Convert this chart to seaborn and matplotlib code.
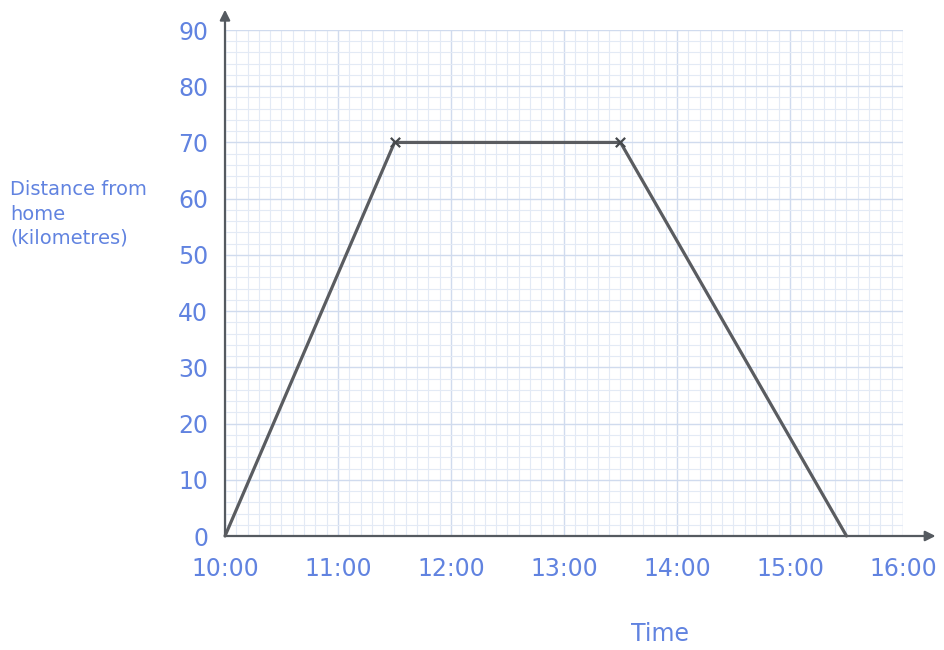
import matplotlib
matplotlib.use("Agg")
import matplotlib.pyplot as plt
import numpy as np
import pandas as pd
import seaborn as sns

# Journey: time of day (hours) and distance from home (km)
times = [10.0, 11.5, 13.5, 15.5]
distances = [0, 70, 70, 0]
# Points where the stop begins and ends
stop_times = [11.5, 13.5]
stop_distances = [70, 70]

x_ticks = [10, 11, 12, 13, 14, 15, 16]
x_tick_labels = ["10:00", "11:00", "12:00", "13:00", "14:00", "15:00", "16:00"]
y_ticks = [0, 10, 20, 30, 40, 50, 60, 70, 80, 90]

sns.set_theme(style="white")
plt.rcParams["font.family"] = ["DejaVu Sans"]

blue = "#6183e0"
axis_col = "#555a60"

fig = plt.figure(figsize=(9.45, 6.5), dpi=100)
ax = fig.add_axes([225 / 945, 1 - 536 / 650, (903 - 225) / 945, (536 - 30) / 650])

df = pd.DataFrame({"time": times, "distance": distances})
stops = pd.DataFrame({"time": stop_times, "distance": stop_distances})

sns.lineplot(data=df, x="time", y="distance", ax=ax, color="#5a5c60",
             linewidth=2.3, sort=False, zorder=5, clip_on=False)
sns.scatterplot(data=stops, x="time", y="distance", ax=ax, marker="x",
                color="#45484c", s=45, linewidth=1.6, zorder=6, clip_on=False)

ax.set_xlim(10, 16)
ax.set_ylim(0, 90)

# graph-paper grid
ax.set_xticks(x_ticks)
ax.set_xticks(np.arange(10, 16.001, 0.1), minor=True)
ax.set_yticks(y_ticks)
ax.set_yticks(np.arange(0, 90.001, 2), minor=True)
ax.grid(which="minor", color="#e3eaf5", linewidth=0.8)
ax.grid(which="major", color="#d0dbee", linewidth=1.0)
ax.set_axisbelow(True)

ax.set_xticklabels(x_tick_labels, color=blue, fontsize=17)
ax.set_yticklabels([str(v) for v in y_ticks], color=blue, fontsize=17)
ax.tick_params(axis="x", which="major", direction="out", length=5, width=1,
               color=axis_col, pad=10)
ax.tick_params(axis="y", which="major", direction="out", length=6, width=1,
               color=axis_col, pad=6)
ax.tick_params(which="minor", length=0)

for side in ["top", "right", "left", "bottom"]:
    ax.spines[side].set_visible(False)

# axes drawn as arrows
ax.annotate("", xy=(1.048, 0), xytext=(0, 0), xycoords="axes fraction",
            textcoords="axes fraction",
            arrowprops=dict(arrowstyle="-|>", color=axis_col, lw=1.6,
                            mutation_scale=15, shrinkA=0, shrinkB=0))
ax.annotate("", xy=(0, 1.04), xytext=(0, 0), xycoords="axes fraction",
            textcoords="axes fraction",
            arrowprops=dict(arrowstyle="-|>", color=axis_col, lw=1.6,
                            mutation_scale=15, shrinkA=0, shrinkB=0))

ax.set_xlabel("")
ax.set_ylabel("")
fig.text(10 / 945, 1 - 214 / 650, "Distance from\nhome\n(kilometres)",
         color=blue, fontsize=14, ha="left", va="center", linespacing=1.35)
fig.text(660 / 945, 1 - 634 / 650, "Time", color=blue, fontsize=17,
         ha="center", va="center")

fig.savefig("out.png", dpi=100, facecolor="white")
